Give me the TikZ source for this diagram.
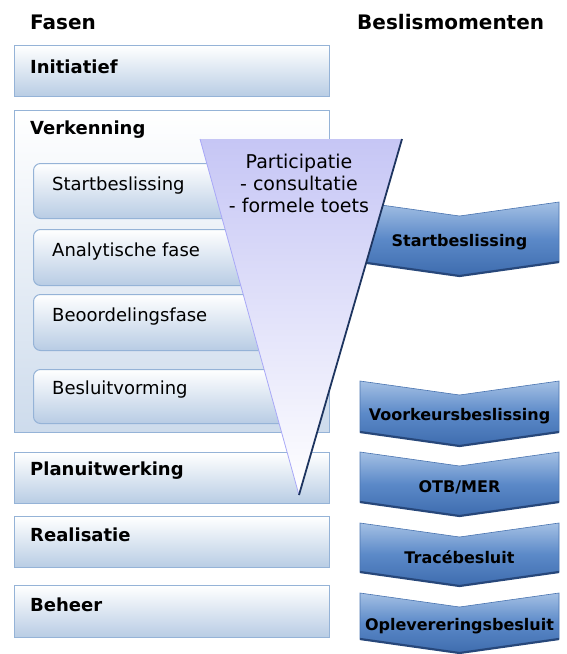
\documentclass[tikz,border=0pt]{standalone}
\usepackage{fontspec}
\setmainfont{DejaVu Sans}
\usetikzlibrary{positioning}

\definecolor{boxedge}{HTML}{95B3D7}
\definecolor{boxblue}{HTML}{B8CCE4}
\definecolor{chevtop}{HTML}{A4C0E4}
\definecolor{chevmid}{HTML}{5B89C8}
\definecolor{chevbot}{HTML}{3E6CAE}
\definecolor{chevedge}{HTML}{4A74B0}
\definecolor{chevdark}{HTML}{27477A}
\definecolor{lavender}{HTML}{C6C6F5}
\definecolor{navyedge}{HTML}{1E3560}

\begin{document}
\begin{tikzpicture}[
    x=1pt, y=-1pt,
    titel/.style={anchor=west, inner sep=0pt, font=\fontsize{20}{23}\bfseries\selectfont},
    fase/.style={rectangle, draw=boxedge, line width=1.2pt, top color=white, bottom color=boxblue,
        minimum width=315pt, anchor=north west, inner sep=0pt},
    substap/.style={rectangle, rounded corners=7pt, draw=boxedge, line width=1pt, top color=white,
        bottom color=boxblue, minimum width=270pt, anchor=north west, inner sep=0pt},
    faselabel/.style={anchor=west, inner sep=0pt, font=\fontsize{18}{21}\bfseries\selectfont},
    staplabel/.style={anchor=west, inner sep=0pt, font=\fontsize{18}{21}\selectfont},
    besluit/.style={inner sep=0pt, font=\fontsize{16}{19}\bfseries\selectfont}
]
\useasboundingbox (0,0) rectangle (567,654);

% Titles
\node[titel] (fasen) at (30,22) {Fasen};
\node[titel] (beslis) at (357,22) {Beslismomenten};

% Phases
\node[fase, minimum height=51pt] (initiatief) at (14,45) {};
\node[faselabel] at (30,67) {Initiatief};

\node[fase, minimum height=322pt, bottom color=boxblue!70] (verkenning) at (14,110) {};
\node[faselabel] at (30,130) {Verkenning};

% Steps inside Verkenning
\node[substap, minimum height=55pt] (start) at (33,163) {};
\node[staplabel] at (52,186) {Startbeslissing};
\node[substap, minimum height=56pt] (analyse) at (33,229) {};
\node[staplabel] at (52,252) {Analytische fase};
\node[substap, minimum height=56pt] (beoordeling) at (33,294) {};
\node[staplabel] at (52,317) {Beoordelingsfase};
\node[substap, minimum height=54pt] (besluitv) at (33,369) {};
\node[staplabel] at (52,390) {Besluitvorming};

\node[fase, minimum height=51pt] (planuitw) at (14,452) {};
\node[faselabel] at (30,471) {Planuitwerking};
\node[fase, minimum height=51pt] (realisatie) at (14,516) {};
\node[faselabel] at (30,535) {Realisatie};
\node[fase, minimum height=52pt] (beheer) at (14,585) {};
\node[faselabel] at (30,605) {Beheer};

% Decision moments
\foreach \name/\top/\h/\txt in {startb/202/60/Startbeslissing,
    voorkeur/381/51/Voorkeursbeslissing, otb/452/50/{OTB/MER},
    trace/523/49/Tracébesluit, oplevering/593/46/Oplevereringsbesluit}{
  \path[top color=chevtop, bottom color=chevbot, middle color=chevmid, draw=chevedge, line width=0.6pt]
    (360,\top) -- (459.5,\top+14) -- (559,\top) -- (559,\top+\h) -- (459.5,\top+\h+14) -- (360,\top+\h) -- cycle;
  \draw[chevdark, line width=2.2pt, line join=round] (360,\top+\h) -- (459.5,\top+\h+14) -- (559,\top+\h);
  \node[besluit] (\name) at (459.5,\top+\h/2+10) {\txt};
}

% Participation funnel
\coordinate (tri-l) at (200,139);
\coordinate (tri-r) at (402,139);
\coordinate (tri-tip) at (299,495);
\path[top color=lavender, bottom color=white] (tri-l) -- (tri-r) -- (tri-tip) -- cycle;
\draw[lavender!85!blue, line width=0.8pt] (tri-l) -- (tri-tip);
\draw[navyedge, line width=1.8pt] (tri-r) -- (tri-tip);
\node[align=center, inner sep=0pt, font=\fontsize{19}{22}\selectfont] (participatie) at (299,183)
  {Participatie\\- consultatie\\- formele toets};

\end{tikzpicture}
\end{document}
